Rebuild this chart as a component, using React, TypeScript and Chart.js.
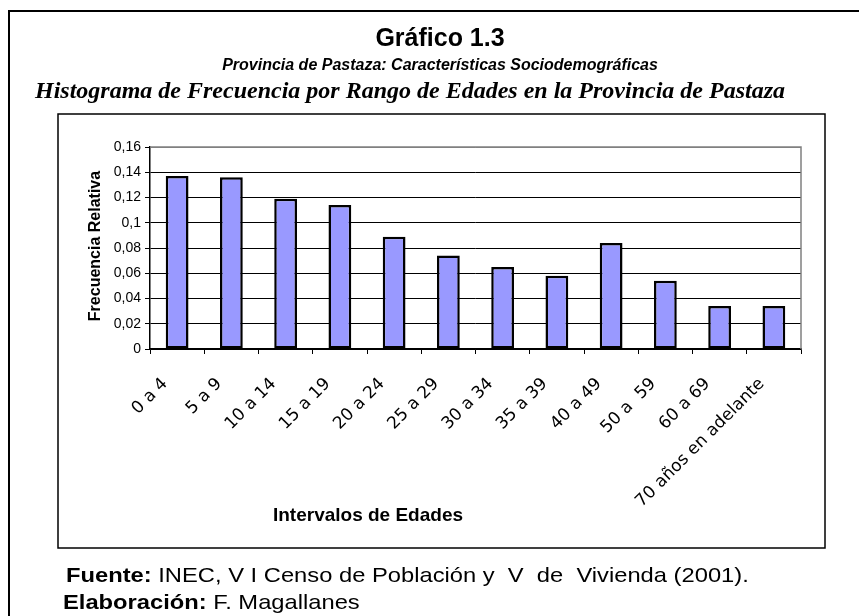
import React, { useEffect, useRef } from "react";
import { Chart, registerables } from "chart.js";

Chart.register(...registerables);

const categories = [
  "0 a 4", "5 a 9", "10 a 14", "15 a 19", "20 a 24", "25 a 29",
  "30 a 34", "35 a 39", "40 a 49", "50 a  59", "60 a 69", "70 años en adelante",
];
const frecuencia = [0.137, 0.136, 0.119, 0.114, 0.089, 0.074, 0.065, 0.058, 0.084, 0.054, 0.034, 0.034];
const yTicks = [0, 0.02, 0.04, 0.06, 0.08, 0.1, 0.12, 0.14, 0.16];
const titleText = "Gráfico 1.3";
const subtitleText = "Provincia de Pastaza: Características Sociodemográficas";
const headingText = "Histograma de Frecuencia por Rango de Edades en la Provincia de Pastaza";
const yTitle = "Frecuencia Relativa";
const xTitle = "Intervalos de Edades";
const fuenteLabel = "Fuente:";
const fuenteText = " INEC, V I Censo de Población y  V  de  Vivienda (2001).";
const elabLabel = "Elaboración:";
const elabText = " F. Magallanes";

const W = 859;
const H = 616;
const SANS = "'Liberation Sans', Arial, sans-serif";

function drawMixed(ctx: any, x: number, y: number, boldPart: string, normalPart: string, size: number, sx: number) {
  ctx.save();
  ctx.translate(x, y);
  ctx.scale(sx, 1);
  ctx.textAlign = "left";
  ctx.textBaseline = "alphabetic";
  ctx.font = `bold ${size}px ${SANS}`;
  ctx.fillText(boldPart, 0, 0);
  const w = ctx.measureText(boldPart).width;
  ctx.font = `${size}px ${SANS}`;
  ctx.fillText(normalPart, w, 0);
  ctx.restore();
}

const decorPlugin = {
  id: "decor",
  beforeDraw(chart: any) {
    const ctx = chart.ctx;
    ctx.save();
    ctx.fillStyle = "#fff";
    ctx.fillRect(0, 0, W, H);
    // outer frame
    ctx.strokeStyle = "#000";
    ctx.lineWidth = 2;
    ctx.beginPath();
    ctx.moveTo(9, H + 5);
    ctx.lineTo(9, 11);
    ctx.lineTo(W + 5, 11);
    ctx.stroke();
    // inner chart box
    ctx.lineWidth = 1.5;
    ctx.strokeRect(58, 114, 767, 434);
    // titles
    ctx.fillStyle = "#000";
    ctx.textAlign = "center";
    ctx.textBaseline = "alphabetic";
    ctx.font = `bold 25px ${SANS}`;
    ctx.fillText(titleText, 440, 46);
    ctx.font = `italic bold 16px ${SANS}`;
    ctx.fillText(subtitleText, 440, 70);
    ctx.textAlign = "left";
    ctx.font = "italic bold 24px 'Liberation Serif', 'Times New Roman', serif";
    ctx.fillText(headingText, 35, 98);
    // y title
    ctx.save();
    ctx.translate(96, 246);
    ctx.rotate(-Math.PI / 2);
    ctx.textAlign = "center";
    ctx.textBaseline = "middle";
    ctx.font = `bold 16px ${SANS}`;
    ctx.fillText(yTitle, 0, 0);
    ctx.restore();
    // x title
    ctx.textAlign = "center";
    ctx.textBaseline = "middle";
    ctx.font = `bold 19px ${SANS}`;
    ctx.fillText(xTitle, 368, 516);
    // footer
    drawMixed(ctx, 66, 582, fuenteLabel, fuenteText, 21, 1.13);
    drawMixed(ctx, 63, 609, elabLabel, elabText, 21, 1.13);
    ctx.restore();
  },
  afterDatasetsDraw(chart: any) {
    const { ctx, chartArea } = chart;
    ctx.save();
    ctx.strokeStyle = "#808080";
    ctx.lineWidth = 1.5;
    ctx.beginPath();
    ctx.moveTo(chartArea.left, chartArea.top);
    ctx.lineTo(chartArea.right, chartArea.top);
    ctx.lineTo(chartArea.right, chartArea.bottom);
    ctx.stroke();
    ctx.restore();
  },
};

export default function App() {
  const ref = useRef<HTMLCanvasElement>(null);
  useEffect(() => {
    if (!ref.current) return;
    const chart = new Chart(ref.current, {
      type: "bar",
      data: {
        labels: categories,
        datasets: [
          {
            data: frecuencia,
            backgroundColor: "#9999FF",
            borderColor: "#000",
            borderWidth: 2.5,
            borderSkipped: false,
            barPercentage: 0.42,
            categoryPercentage: 1,
          },
        ],
      },
      options: {
        animation: false,
        responsive: false,
        maintainAspectRatio: false,
        devicePixelRatio: 1,
        layout: { padding: { left: 58, top: 147, right: 58, bottom: 67 } },
        plugins: { legend: { display: false }, tooltip: { enabled: false }, title: { display: false } },
        scales: {
          x: {
            grid: { offset: true, drawOnChartArea: false, drawTicks: true, tickLength: 5, color: "#000" },
            border: { display: true, color: "#000", width: 1.5 },
            ticks: {
              color: "#000",
              maxRotation: 45,
              minRotation: 45,
              autoSkip: false,
              padding: 20,
              labelOffset: -12,
              font: { family: "'DejaVu Sans', Verdana, sans-serif", size: 17 },
            },
            afterFit(scale: any) { scale.height = 200; },
          },
          y: {
            min: 0,
            max: 0.16,
            afterBuildTicks(scale: any) { scale.ticks = yTicks.map((v) => ({ value: v })); },
            grid: {
              color: (c: any) => (c.tick && Math.abs(c.tick.value - 0.16) < 1e-9 ? "#808080" : "#000"),
              tickLength: 5,
              drawTicks: true,
              tickColor: "#000",
            },
            border: { display: true, color: "#000", width: 1.5 },
            ticks: {
              color: "#000",
              padding: 4,
              font: { family: SANS, size: 14 },
              callback: (v: any) => String(Math.round(Number(v) * 100) / 100).replace(".", ","),
            },
            afterFit(scale: any) { scale.width = 92; },
          },
        },
      },
      plugins: [decorPlugin],
    });
    return () => chart.destroy();
  }, []);
  return (
    <div style={{ position: "absolute", left: 0, top: 0, width: W, height: H }}>
      <canvas ref={ref} width={W} height={H} style={{ width: W, height: H, display: "block" }} />
    </div>
  );
}
